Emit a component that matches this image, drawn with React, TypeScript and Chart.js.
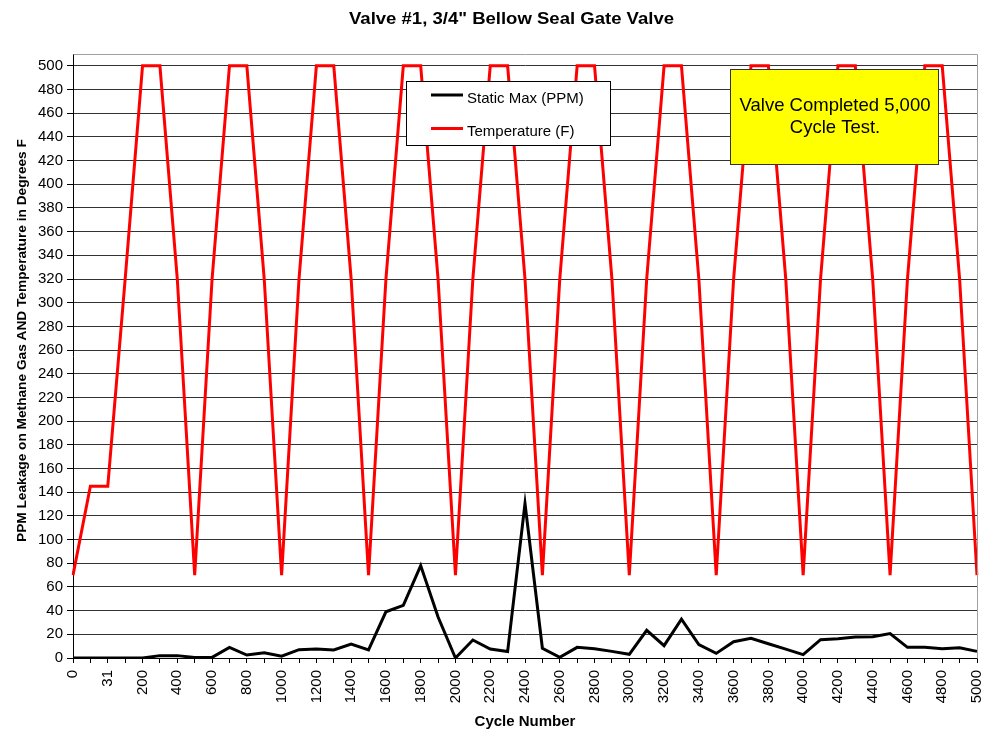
import React, { useEffect, useRef } from "react";
import { Chart, registerables } from "chart.js";

Chart.register(...registerables);

const cycleLabels: string[] = [
  "0", "10", "31", "100", "200", "300", "400", "500", "600", "700", "800", "900", "1000",
  "1100", "1200", "1300", "1400", "1500", "1600", "1700", "1800", "1900", "2000",
  "2100", "2200", "2300", "2400", "2500", "2600", "2700", "2800", "2900", "3000",
  "3100", "3200", "3300", "3400", "3500", "3600", "3700", "3800", "3900", "4000",
  "4100", "4200", "4300", "4400", "4500", "4600", "4700", "4800", "4900", "5000",
];

const staticMaxPPM: number[] = [
  0, 0, 0, 0, 0, 2, 2, 0.5, 0.5, 9, 2.5, 4.5, 1.5,
  7, 7.6, 6.8, 11.8, 6.8, 39, 44.5, 78, 34.6, 0,
  15.2, 7.6, 5.4, 130.4, 8.2, 0.6, 9, 7.9, 5.6, 3.1,
  23.4, 10.4, 32.7, 11.3, 3.9, 13.8, 16.6, 12, 7.5, 2.8,
  15.5, 16.3, 17.7, 18, 20.6, 9, 9, 7.9, 8.7, 5.6,
];

const temperatureF: number[] = [
  70, 145, 145, 320, 500, 500, 320, 70, 320, 500, 500, 320, 70,
  320, 500, 500, 320, 70, 320, 500, 500, 320, 70,
  320, 500, 500, 320, 70, 320, 500, 500, 320, 70,
  320, 500, 500, 320, 70, 320, 500, 500, 320, 70,
  320, 500, 500, 320, 70, 320, 500, 500, 320, 70,
];

const chartTitle = 'Valve #1, 3/4" Bellow Seal Gate Valve';
const xTitle = "Cycle Number";
const yTitle = "PPM Leakage on Methane Gas AND Temperature in Degrees F";
const noteLines: string[] = ["Valve Completed 5,000", "Cycle Test."];

const FONT = '"Liberation Sans", Arial, Helvetica, sans-serif';

const decorPlugin = {
  id: "decor",
  afterDraw(chart: any) {
    const ctx: CanvasRenderingContext2D = chart.ctx;
    const area = chart.chartArea;
    ctx.save();

    // plot area top/right border
    ctx.strokeStyle = "#a0a0a0";
    ctx.lineWidth = 1;
    ctx.beginPath();
    ctx.moveTo(Math.round(area.left) + 0.5, Math.round(area.top) + 0.5);
    ctx.lineTo(Math.round(area.right) + 0.5, Math.round(area.top) + 0.5);
    ctx.lineTo(Math.round(area.right) + 0.5, Math.round(area.bottom) + 0.5);
    ctx.stroke();

    // Title (stretched to match reference width)
    ctx.fillStyle = "#000";
    ctx.font = `bold 16px ${FONT}`;
    ctx.textBaseline = "alphabetic";
    ctx.textAlign = "left";
    const tw = ctx.measureText(chartTitle).width;
    const targetW = 325;
    ctx.save();
    ctx.translate(511.5 - targetW / 2, 24);
    ctx.scale(targetW / tw, 1);
    ctx.fillText(chartTitle, 0, 0);
    ctx.restore();

    // X title
    ctx.font = `bold 15px ${FONT}`;
    ctx.textAlign = "center";
    ctx.fillText(xTitle, 525, 725.5);

    // Y title
    ctx.save();
    ctx.font = `bold 13.7px ${FONT}`;
    ctx.translate(26, 542);
    ctx.rotate(-Math.PI / 2);
    ctx.textAlign = "left";
    ctx.fillText(yTitle, 0, 0);
    ctx.restore();

    // Legend
    const ds = chart.data.datasets;
    ctx.fillStyle = "#fff";
    ctx.fillRect(406.5, 81.5, 204, 64);
    ctx.strokeStyle = "#000";
    ctx.lineWidth = 1;
    ctx.strokeRect(406.5, 81.5, 204, 64);
    const rows = [95, 128.5];
    const baselines = [102.7, 136];
    ds.forEach((d: any, i: number) => {
      ctx.strokeStyle = d.borderColor;
      ctx.lineWidth = 3;
      ctx.beginPath();
      ctx.moveTo(431, rows[i]);
      ctx.lineTo(463, rows[i]);
      ctx.stroke();
      ctx.fillStyle = "#000";
      ctx.font = `15px ${FONT}`;
      ctx.textAlign = "left";
      ctx.fillText(d.label, 467, baselines[i]);
    });

    // Note box
    ctx.fillStyle = "#ffff00";
    ctx.fillRect(730.5, 69.5, 208, 95);
    ctx.strokeStyle = "#333";
    ctx.lineWidth = 1;
    ctx.strokeRect(730.5, 69.5, 208, 95);
    ctx.fillStyle = "#000";
    ctx.font = `18.5px ${FONT}`;
    ctx.textAlign = "center";
    ctx.fillText(noteLines[0], 835, 111);
    ctx.fillText(noteLines[1], 835, 133.3);

    ctx.restore();
  },
};

export default function App() {
  const ref = useRef<HTMLCanvasElement | null>(null);

  useEffect(() => {
    if (!ref.current) return;
    const chart = new Chart(ref.current, {
      type: "line",
      data: {
        labels: cycleLabels,
        datasets: [
          {
            label: "Static Max (PPM)",
            data: staticMaxPPM,
            borderColor: "#000000",
            backgroundColor: "#000000",
            borderWidth: 3,
            pointRadius: 0,
            tension: 0,
          },
          {
            label: "Temperature (F)",
            data: temperatureF,
            borderColor: "#ff0000",
            backgroundColor: "#ff0000",
            borderWidth: 3,
            pointRadius: 0,
            tension: 0,
          },
        ],
      },
      options: {
        animation: false,
        responsive: false,
        devicePixelRatio: 1,
        layout: { padding: { top: 54, right: 12, left: 0, bottom: 0 } },
        plugins: {
          legend: { display: false },
          title: { display: false },
          tooltip: { enabled: false },
        },
        scales: {
          x: {
            type: "category",
            offset: false,
            grid: {
              display: true,
              drawOnChartArea: false,
              drawTicks: true,
              tickLength: 5,
              tickColor: "#000",
              offset: false,
            },
            border: { display: true, color: "#000", width: 1 },
            ticks: {
              autoSkip: false,
              minRotation: 90,
              maxRotation: 90,
              padding: 7,
              color: "#000",
              font: { family: FONT, size: 15 },
              callback: function (_v: any, i: number) {
                return i % 2 === 0 ? cycleLabels[i] : "";
              },
            },
            afterFit: (scale: any) => {
              scale.height = 76;
              scale.paddingLeft = 0;
              scale.paddingRight = 0;
            },
          },
          y: {
            type: "linear",
            min: 0,
            max: 510,
            grid: {
              color: "#333",
              lineWidth: 1,
              tickLength: 6,
              tickColor: "#000",
            },
            border: { display: true, color: "#000", width: 1 },
            ticks: {
              stepSize: 20,
              includeBounds: false,
              padding: 4,
              color: "#000",
              font: { family: FONT, size: 15 },
            },
            afterFit: (scale: any) => {
              scale.width = 73;
              scale.paddingTop = 0;
              scale.paddingBottom = 0;
            },
          },
        },
      },
      plugins: [decorPlugin],
    } as any);
    return () => chart.destroy();
  }, []);

  return (
    <div style={{ position: "absolute", left: 0, top: 0, width: 989, height: 734, background: "#fff" }}>
      <canvas ref={ref} width={989} height={734} style={{ display: "block" }} />
    </div>
  );
}
